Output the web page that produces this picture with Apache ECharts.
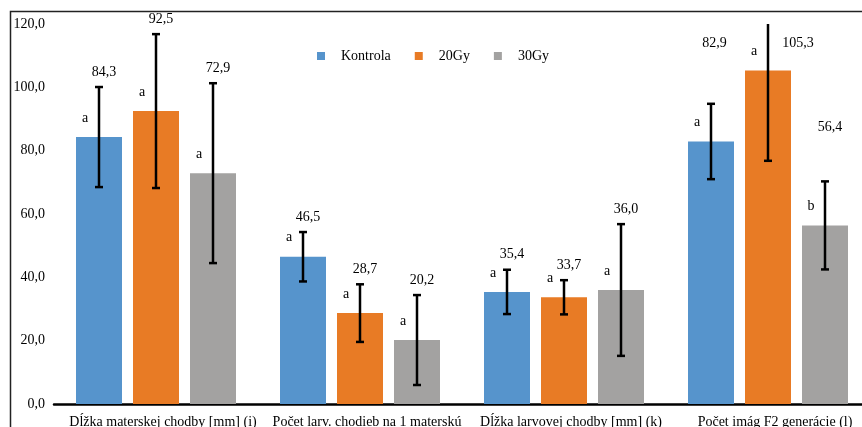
<!DOCTYPE html>
<html>
<head>
<meta charset="utf-8">
<script src="https://cdn.jsdelivr.net/npm/echarts@6/dist/echarts.min.js"></script>
<style>
  html, body { margin: 0; padding: 0; background: #fff; }
  #chart { width: 862px; height: 427px; }
</style>
</head>
<body>
<div id="chart"></div>
<script>
// Categories and series
const categories = [
  'Dĺžka materskej chodby [mm] (i)',
  'Počet larv. chodieb na 1 materskú',
  'Dĺžka larvovej chodby [mm] (k)',
  'Počet imág F2 generácie (l)'
];
const seriesNames = ['Kontrola', '20Gy', '30Gy'];

// Means
const kontrola = [84.3, 46.5, 35.4, 82.9];
const gy20 = [92.5, 28.7, 33.7, 105.3];
const gy30 = [72.9, 20.2, 36.0, 56.4];

// Standard deviations (error bars)
const errKontrola = [15.8, 7.8, 7.0, 11.9];
const errGy20 = [24.3, 9.1, 5.4, 28.5];
const errGy30 = [28.4, 14.2, 20.8, 13.9];

// Significance letters
const sigKontrola = ['a', 'a', 'a', 'a'];
const sigGy20 = ['a', 'a', 'a', 'a'];
const sigGy30 = ['a', 'a', 'a', 'b'];

// Value axis
const yMin = 0, yMax = 120, yStep = 20;

// ---- styling / layout ----
const colors = ['#5694CC', '#E87B25', '#A3A2A1'];
const FONT = '"Liberation Serif", "Times New Roman", serif';
const BAR_W = 46, BAR_GAP = 11;
// extra nudges for a few value labels, [dx, dy] in px: key "series-category"
const labelNudge = { '0-3': [-1.5, -45], '1-3': [25, 78], '2-3': [0, -39] };

const means = [kontrola, gy20, gy30];
const errs = [errKontrola, errGy20, errGy30];
const sigs = [sigKontrola, sigGy20, sigGy30];

const fmt = v => v.toFixed(1).replace('.', ',');

function errorRenderer(si) {
  return function (params, api) {
    const c = api.value(0), v = api.value(1), e = api.value(2);
    const off = (si - 1) * (BAR_W + BAR_GAP);
    const base = api.coord([c, v]);
    const x = base[0] + off;
    const rawTop = v + e;
    const yTop = api.coord([c, Math.min(rawTop, yMax)])[1];
    const yTopRaw = api.coord([c, rawTop])[1];
    const yBot = api.coord([c, v - e])[1];
    const capW = 4;
    const line = { stroke: '#000', lineWidth: 2.5 };
    const children = [
      { type: 'line', shape: { x1: x, y1: yTop, x2: x, y2: yBot }, style: line },
      { type: 'line', shape: { x1: x - capW, y1: yBot, x2: x + capW, y2: yBot }, style: line }
    ];
    if (rawTop <= yMax) {
      children.push({ type: 'line', shape: { x1: x - capW, y1: yTop, x2: x + capW, y2: yTop }, style: line });
    }
    const nudge = labelNudge[si + '-' + params.dataIndex] || [0, 0];
    children.push({
      type: 'text',
      style: {
        text: fmt(v), x: x + 5 + nudge[0], y: yTopRaw - 15 + nudge[1],
        align: 'center', verticalAlign: 'middle',
        font: '14px ' + FONT, fill: '#000'
      }
    });
    children.push({
      type: 'text',
      style: {
        text: sigs[si][params.dataIndex], x: x - 14, y: base[1] - 19,
        align: 'center', verticalAlign: 'middle',
        font: '14px ' + FONT, fill: '#000'
      }
    });
    return { type: 'group', children: children };
  };
}

const series = [];
seriesNames.forEach((name, si) => {
  series.push({
    name: name, type: 'bar', data: means[si],
    barWidth: BAR_W, barGap: (BAR_GAP / BAR_W * 100) + '%',
    itemStyle: { color: colors[si] }
  });
});
seriesNames.forEach((name, si) => {
  series.push({
    name: name + ' SD', type: 'custom', z: 5,
    renderItem: errorRenderer(si),
    data: means[si].map((v, i) => [i, v, errs[si][i]]),
    silent: true
  });
});

const chart = echarts.init(document.getElementById('chart'), null, { renderer: 'canvas' });
chart.setOption({
  animation: false,
  backgroundColor: '#fff',
  grid: { left: 54, top: 24, bottom: 23, width: 816, containLabel: false, outerBoundsMode: 'none' },
  legend: {
    data: seriesNames, left: 312, top: 44,
    icon: 'rect', itemWidth: 8, itemHeight: 8, itemGap: 24,
    textStyle: { fontFamily: FONT, fontSize: 14, color: '#000', padding: [0, 0, 0, 11] }
  },
  xAxis: {
    type: 'category', data: categories,
    axisLine: { lineStyle: { color: '#000', width: 2.5 } },
    axisTick: { show: false },
    axisLabel: { fontFamily: FONT, fontSize: 14, color: '#000', margin: 11, interval: 0, padding: [0, 0, 0, 14] }
  },
  yAxis: {
    type: 'value', min: yMin, max: yMax, interval: yStep,
    axisLine: { show: false }, axisTick: { show: false },
    splitLine: { show: false },
    axisLabel: { fontFamily: FONT, fontSize: 14, color: '#000', margin: 9, padding: [3, 0, 0, 0], formatter: v => fmt(v) }
  },
  graphic: [
    { type: 'polyline', shape: { points: [[10.5, 500], [10.5, 11.5], [900, 11.5]] },
      style: { stroke: '#222', lineWidth: 1.5, fill: null } }
  ],
  series: series
});
</script>
</body>
</html>
